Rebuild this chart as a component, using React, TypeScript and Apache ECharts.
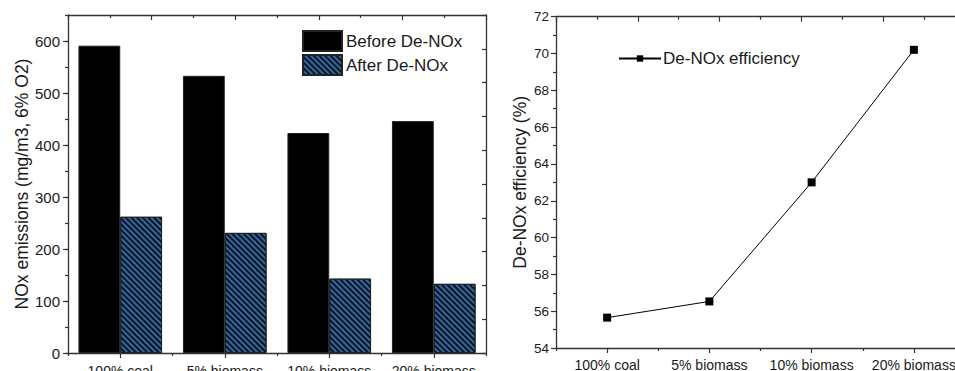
import React, { useEffect, useRef } from "react";
import * as echarts from "echarts";

const categories = ["100% coal", "5% biomass", "10% biomass", "20% biomass"];
const beforeDeNOx = [591, 533, 423, 446];
const afterDeNOx = [262, 231, 143, 133];
const efficiency = [55.65, 56.53, 63.0, 70.2];

const FONT = "Liberation Sans, Arial, sans-serif";
const AXIS_COLOR = "#333";
const TEXT_COLOR = "#1a1a1a";

export default function App() {
  const ref = useRef<HTMLDivElement>(null);
  useEffect(() => {
    if (!ref.current) return;
    const chart = echarts.init(ref.current, null, { renderer: "svg" });
    const axisLine = { show: true, onZero: false, lineStyle: { color: AXIS_COLOR, width: 1.3 } };
    const tickStyle = { color: AXIS_COLOR, width: 1.2 };
    const topAxis = (gridIndex: number) => ({
      type: "value",
      gridIndex,
      position: "top",
      min: 0,
      max: 10,
      interval: 2,
      axisLine,
      axisTick: { show: true, inside: true, length: 5, lineStyle: tickStyle },
      minorTick: { show: true, splitNumber: 2, length: 3, lineStyle: tickStyle },
      axisLabel: { show: false },
      splitLine: { show: false },
    });
    const option: any = {
      animation: false,
      textStyle: { fontFamily: FONT },
      grid: [
        { left: 68, top: 15, width: 418, height: 338, outerBoundsMode: "none", containLabel: false },
        { left: 556, top: 16.7, width: 409, height: 331.3, outerBoundsMode: "none", containLabel: false },
      ],
      legend: [
        {
          orient: "vertical",
          left: 302,
          top: 30,
          padding: 0,
          itemWidth: 39,
          itemHeight: 20,
          itemGap: 2,
          icon: "rect",
          data: ["Before De-NOx", "After De-NOx"],
          textStyle: { fontSize: 17, color: TEXT_COLOR, fontFamily: FONT, padding: [0, 0, 0, -1] },
        },
        {
          left: 618,
          top: 50,
          padding: 0,
          itemWidth: 42,
          itemHeight: 8,
          itemGap: 2,
          data: ["De-NOx efficiency"],
          textStyle: { fontSize: 17, color: TEXT_COLOR, fontFamily: FONT, padding: [0, 0, 0, -3] },
        },
      ],
      xAxis: [
        {
          type: "category",
          gridIndex: 0,
          position: "bottom",
          data: categories,
          axisLine,
          axisTick: { show: true, alignWithLabel: true, length: 5, lineStyle: tickStyle },
          axisLabel: { interval: 0, fontSize: 14, color: TEXT_COLOR, margin: 11, fontFamily: FONT },
        },
        {
          type: "category",
          gridIndex: 0,
          position: "bottom",
          data: categories,
          axisLine: { show: false, onZero: false },
          axisTick: { show: true, length: 3, lineStyle: tickStyle },
          axisLabel: { show: false },
        },
        topAxis(0),
        {
          type: "category",
          gridIndex: 1,
          position: "bottom",
          data: categories,
          axisLine,
          axisTick: { show: true, alignWithLabel: true, length: 5, lineStyle: tickStyle },
          axisLabel: { interval: 0, fontSize: 14, color: TEXT_COLOR, margin: 10, fontFamily: FONT },
        },
        {
          type: "category",
          gridIndex: 1,
          position: "bottom",
          data: categories,
          axisLine: { show: false, onZero: false },
          axisTick: { show: true, length: 3, lineStyle: tickStyle },
          axisLabel: { show: false },
        },
        topAxis(1),
      ],
      yAxis: [
        {
          type: "value",
          gridIndex: 0,
          position: "left",
          min: 0,
          max: 650,
          interval: 100,
          name: "NOx emissions (mg/m3, 6% O2)",
          nameLocation: "middle",
          nameGap: 37,
          nameTextStyle: { fontSize: 17.5, color: TEXT_COLOR, fontFamily: FONT },
          axisLine,
          axisTick: { show: true, length: 5, lineStyle: tickStyle },
          axisLabel: { fontSize: 15, color: TEXT_COLOR, margin: 8, showMaxLabel: false, fontFamily: FONT },
          splitLine: { show: false },
        },
        {
          type: "value",
          gridIndex: 0,
          position: "left",
          min: 0,
          max: 650,
          interval: 50,
          axisLine: { show: false, onZero: false },
          axisTick: { show: true, length: 3, lineStyle: tickStyle },
          axisLabel: { show: false },
          splitLine: { show: false },
        },
        {
          type: "value",
          gridIndex: 0,
          position: "right",
          min: 0,
          max: 10,
          interval: 1,
          axisLine,
          axisTick: { show: true, inside: true, length: 4, lineStyle: tickStyle },
          axisLabel: { show: false },
          splitLine: { show: false },
        },
        {
          type: "value",
          gridIndex: 1,
          position: "left",
          min: 54,
          max: 72,
          interval: 2,
          name: "De-NOx efficiency (%)",
          nameLocation: "middle",
          nameGap: 27,
          nameTextStyle: { fontSize: 17.5, color: TEXT_COLOR, fontFamily: FONT },
          axisLine,
          axisTick: { show: true, length: 5, lineStyle: tickStyle },
          minorTick: { show: true, splitNumber: 2, length: 3, lineStyle: tickStyle },
          axisLabel: { fontSize: 13.5, color: TEXT_COLOR, margin: 7, fontFamily: FONT },
          splitLine: { show: false },
        },
        {
          type: "value",
          gridIndex: 1,
          position: "right",
          min: 0,
          max: 10,
          interval: 1,
          axisLine,
          axisTick: { show: true, inside: true, length: 4, lineStyle: tickStyle },
          axisLabel: { show: false },
          splitLine: { show: false },
        },
      ],
      series: [
        {
          name: "Before De-NOx",
          type: "bar",
          xAxisIndex: 0,
          yAxisIndex: 0,
          data: beforeDeNOx,
          barWidth: "40%",
          barGap: "0%",
          itemStyle: { color: "#000", borderColor: "#222", borderWidth: 1 },
        },
        {
          name: "After De-NOx",
          type: "bar",
          xAxisIndex: 0,
          yAxisIndex: 0,
          data: afterDeNOx,
          barWidth: "40%",
          barGap: "0%",
          itemStyle: {
            color: "#36679f",
            borderColor: "#222",
            borderWidth: 1,
            decal: {
              symbol: "rect",
              symbolSize: 1,
              symbolKeepAspect: false,
              color: "#0a1522",
              dashArrayX: [1, 0],
              dashArrayY: [1.3, 1.7],
              rotation: Math.PI / 4,
            },
          },
        },
        {
          name: "De-NOx efficiency",
          type: "line",
          xAxisIndex: 3,
          yAxisIndex: 3,
          data: efficiency,
          symbol: "rect",
          symbolSize: 8,
          itemStyle: { color: "#000" },
          lineStyle: { color: "#000", width: 1 },
        },
      ],
    };
    chart.setOption(option);
    return () => chart.dispose();
  }, []);
  return (
    <div
      style={{
        position: "fixed",
        left: 0,
        top: 0,
        width: 955,
        height: 371,
        overflow: "hidden",
        background: "#fff",
      }}
    >
      <div ref={ref} style={{ width: 975, height: 371 }} />
    </div>
  );
}
